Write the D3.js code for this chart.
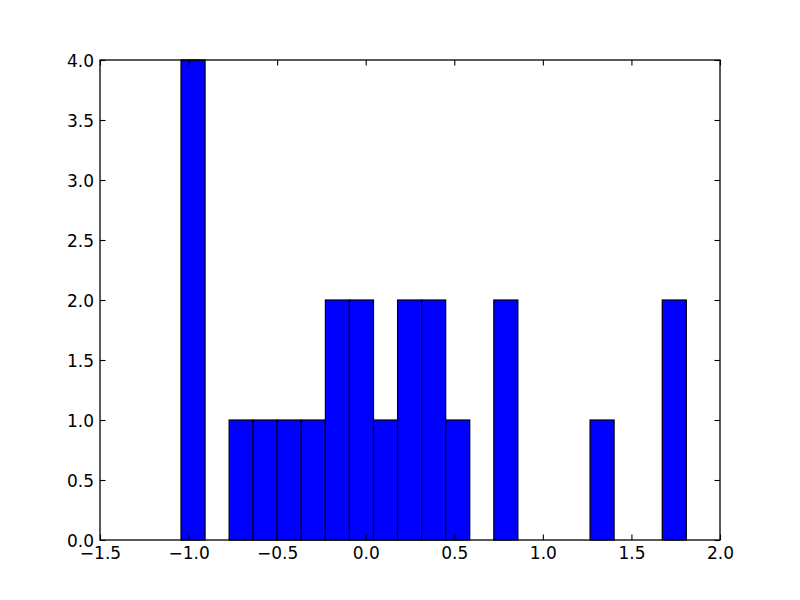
<!DOCTYPE html>
<html>
<head>
<meta charset="utf-8">
<script src="https://cdn.jsdelivr.net/npm/d3@7"></script>
<style>
  html, body { margin: 0; padding: 0; background: #fff; }
  svg { display: block; }
  text { font-family: "DejaVu Sans", sans-serif; font-size: 17px; fill: #000; }
</style>
</head>
<body>
<svg id="chart" width="800" height="600"></svg>
<script>
// Histogram bin edges (21 bins) and counts
const binEdges = [-1.0427, -0.9069, -0.7710, -0.6352, -0.4994, -0.3635, -0.2277, -0.0919,
  0.0440, 0.1798, 0.3156, 0.4515, 0.5873, 0.7231, 0.8590, 0.9948, 1.1306, 1.2665,
  1.4023, 1.5381, 1.6740, 1.8098];
const counts = [4, 0, 1, 1, 1, 1, 2, 2, 1, 2, 2, 1, 0, 2, 0, 0, 0, 1, 0, 0, 2];
const xTicks = [-1.5, -1.0, -0.5, 0.0, 0.5, 1.0, 1.5, 2.0];
const yTicks = [0.0, 0.5, 1.0, 1.5, 2.0, 2.5, 3.0, 3.5, 4.0];

(function () {
const svg = d3.select("#chart");
const pL = 100, pR = 720, pT = 60, pB = 540;
const x = d3.scaleLinear().domain([-1.5, 2.0]).range([pL, pR]);
const y = d3.scaleLinear().domain([0, 4]).range([pB, pT]);

const bins = counts.map((c, i) => ({ x0: binEdges[i], x1: binEdges[i + 1], c }));

svg.append("rect").attr("width", 800).attr("height", 600).attr("fill", "#fff");

svg.append("g").selectAll("rect").data(bins.filter(d => d.c > 0)).join("rect")
  .attr("x", d => x(d.x0))
  .attr("y", d => y(d.c))
  .attr("width", d => x(d.x1) - x(d.x0))
  .attr("height", d => y(0) - y(d.c))
  .attr("fill", "#0000ff")
  .attr("stroke", "#000")
  .attr("stroke-width", 1.2);

const fmt = v => d3.format(".1f")(v).replace("-", "\u2212");
const tl = 5.5;

const xb = d3.axisBottom(x).tickValues(xTicks).tickFormat(fmt).tickSizeInner(-tl).tickSizeOuter(0);
const gxb = svg.append("g").attr("transform", `translate(0,${pB})`).call(xb);
const xt = d3.axisTop(x).tickValues(xTicks).tickFormat("").tickSizeInner(-tl).tickSizeOuter(0);
const gxt = svg.append("g").attr("transform", `translate(0,${pT})`).call(xt);
const yl = d3.axisLeft(y).tickValues(yTicks).tickFormat(fmt).tickSizeInner(-tl).tickSizeOuter(0);
const gyl = svg.append("g").attr("transform", `translate(${pL},0)`).call(yl);
const yr = d3.axisRight(y).tickValues(yTicks).tickFormat("").tickSizeInner(-tl).tickSizeOuter(0);
const gyr = svg.append("g").attr("transform", `translate(${pR},0)`).call(yr);

[gxb, gxt, gyl, gyr].forEach(g => {
  g.attr("font-size", null).attr("font-family", null);
  g.select(".domain").remove();
  g.selectAll(".tick line").attr("stroke", "#000").attr("stroke-width", 1.1);
  g.selectAll("text").attr("fill", "#000");
});
gxb.selectAll("text").attr("y", 19).attr("dy", 0);
gyl.selectAll("text").attr("x", -6).attr("dy", "0.36em");

svg.append("rect")
  .attr("x", pL).attr("y", pT)
  .attr("width", pR - pL).attr("height", pB - pT)
  .attr("fill", "none").attr("stroke", "#000").attr("stroke-width", 1.3);
})();
</script>
</body>
</html>
